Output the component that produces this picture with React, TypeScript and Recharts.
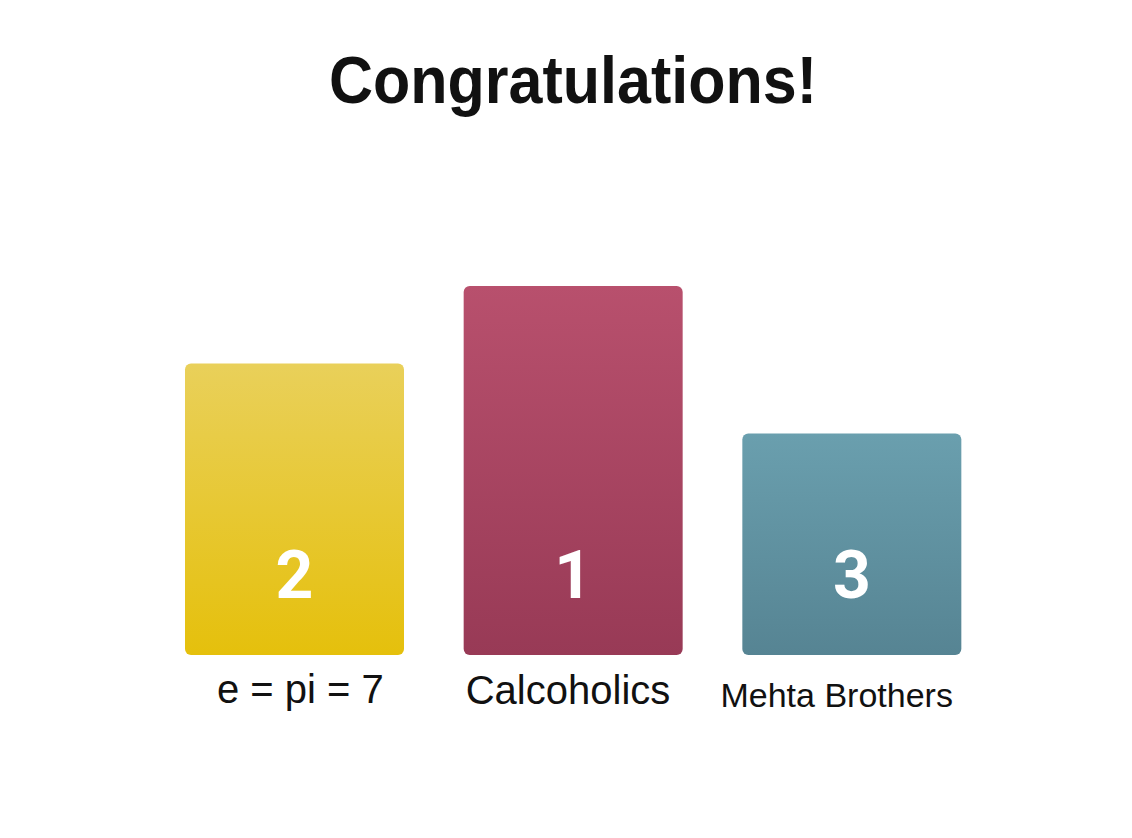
import { BarChart, Bar, XAxis, YAxis, Cell, LabelList } from "recharts";

const teams = ["e = pi = 7", "Calcoholics", "Mehta Brothers"];
const podiumHeights = [79, 100, 60];
const ranks = [2, 1, 3];

const gradients = [
	{ top: "#e9d05a", bottom: "#e5c00c" },
	{ top: "#b8506d", bottom: "#983a56" },
	{ top: "#6a9fae", bottom: "#568493" }
];
const tickSizes = [40, 40, 34];
const tickOffsets = [40, 41, 44];
const tickShifts = [6, -5, -15];

const data = teams.map((name, i) => ({
	name,
	height: podiumHeights[i],
	rank: ranks[i]
}));

const TeamTick = (props: any) => {
	const { x, y, payload, index } = props;
	return (
		<text
			x={x + tickShifts[index]}
			y={y + tickOffsets[index]}
			textAnchor="middle"
			fontFamily="'Liberation Sans', Arial, sans-serif"
			fontSize={tickSizes[index]}
			fill="#111"
		>
			{payload.value}
		</text>
	);
};

const RankLabel = (props: any) => {
	const { x, y, width, height, value } = props;
	return (
		<text
			x={x + width / 2}
			y={y + height - 57}
			textAnchor="middle"
			fontFamily="Roboto, 'Liberation Sans', sans-serif"
			fontWeight={700}
			fontSize={66}
			fill="#ffffff"
		>
			{value}
		</text>
	);
};

export const App = () => {
	return (
		<div style={{ position: "relative", width: 1116, height: 822 }}>
			<div
				style={{
					position: "absolute",
					top: 42,
					left: 7,
					width: 1116,
					textAlign: "center",
					fontFamily: "'Liberation Sans', Arial, sans-serif",
					fontWeight: 700,
					fontSize: 61,
					lineHeight: "61px",
					color: "#111",
					transform: "scaleY(1.1)"
				}}
			>
				Congratulations!
			</div>
			<BarChart
				width={1116}
				height={822}
				data={data}
				margin={{ top: 278, right: 133, bottom: 95, left: 147 }}
				barCategoryGap={30}
			>
				<defs>
					{gradients.map((g, i) => (
						<linearGradient key={i} id={`podium-${i}`} x1="0" y1="0" x2="0" y2="1">
							<stop offset="0%" stopColor={g.top} />
							<stop offset="100%" stopColor={g.bottom} />
						</linearGradient>
					))}
				</defs>
				<XAxis
					dataKey="name"
					axisLine={false}
					tickLine={false}
					height={80}
					interval={0}
					tick={<TeamTick />}
				/>
				<YAxis hide domain={[0, 100]} />
				<Bar dataKey="height" radius={6} isAnimationActive={false}>
					{data.map((_, i) => (
						<Cell key={i} fill={`url(#podium-${i})`} />
					))}
					<LabelList dataKey="rank" content={<RankLabel />} />
				</Bar>
			</BarChart>
		</div>
	);
};

export default App;
